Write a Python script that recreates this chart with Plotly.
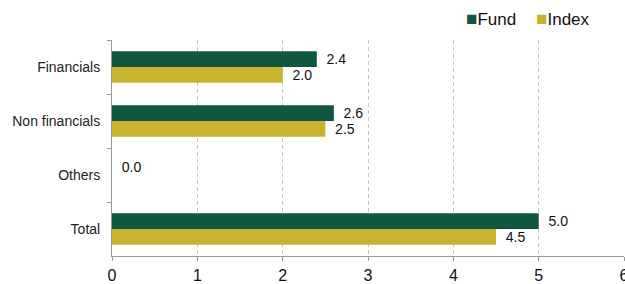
import plotly.graph_objects as go

categories = ["Financials", "Non financials", "Others", "Total"]
fund_values = [2.4, 2.6, 0.0, 5.0]
index_values = [2.0, 2.5, None, 4.5]
fund_text = ["2.4", "2.6", "0.0", "5.0"]
index_text = ["2.0", "2.5", "", "4.5"]
x_ticks = [0, 1, 2, 3, 4, 5, 6]
series_names = ["Fund", "Index"]

GREEN = "#10573F"
YELLOW = "#C8B32F"
FONT = "Liberation Sans, Arial, sans-serif"
PAD = "\u00a0\u2009"

W, H = 625, 284
ML, MR, MT, MB = 112, 1, 40, 28

fig = go.Figure()
fig.add_trace(go.Bar(
    y=categories, x=fund_values, orientation="h", name=series_names[0],
    marker=dict(color=GREEN, line=dict(width=0)),
    text=[PAD + t for t in fund_text], textposition="outside", cliponaxis=False,
    textfont=dict(size=18, color="#111", family=FONT), showlegend=False,
))
fig.add_trace(go.Bar(
    y=categories, x=index_values, orientation="h", name=series_names[1],
    marker=dict(color=YELLOW, line=dict(width=0)),
    text=[(PAD + t) if t else "" for t in index_text], textposition="outside", cliponaxis=False,
    textfont=dict(size=18, color="#111", family=FONT), showlegend=False,
))

# legend drawn as text annotations
pw = W - ML - MR
ph = H - MT - MB
def px_to_paper_x(px):
    return (px - ML) / pw
def py_to_paper_y(py):
    return (H - MB - py) / ph

legend_items = [(series_names[0], GREEN, 464), (series_names[1], YELLOW, 534)]
annotations = []
for name, col, px in legend_items:
    annotations.append(dict(
        xref="paper", yref="paper", x=px_to_paper_x(px), y=py_to_paper_y(19),
        xanchor="left", yanchor="middle", showarrow=False,
        text=f"<span style='color:{col};font-size:19px'>\u25a0</span>{name}",
        font=dict(size=17, color="#111", family=FONT),
    ))

fig.update_layout(
    width=W, height=H,
    margin=dict(l=ML, r=MR, t=MT, b=MB, autoexpand=False),
    barmode="group", bargap=0.42, bargroupgap=0,
    plot_bgcolor="white", paper_bgcolor="white",
    font=dict(family=FONT, color="#222"),
    showlegend=False,
    annotations=annotations,
)
fig.update_xaxes(
    range=[0, 6], tickvals=x_ticks, ticktext=[str(t) for t in x_ticks],
    showgrid=True, gridcolor="#c4c4c4", griddash="4px,3px", gridwidth=1,
    showline=True, linecolor="#999", linewidth=1,
    ticks="outside", ticklen=4, tickcolor="#999",
    tickfont=dict(size=16, color="#111", family=FONT),
    zeroline=False, automargin=False, ticklabeloverflow="allow",
    ticklabelstandoff=1,
)
fig.update_yaxes(
    categoryorder="array", categoryarray=categories, autorange="reversed",
    showline=True, linecolor="#999", linewidth=1,
    ticks="outside", ticklen=4, tickcolor="#999", tickson="boundaries",
    tickfont=dict(size=14, color="#222", family=FONT),
    showgrid=False, ticklabelstandoff=8, automargin=False,
)
fig.write_html("out.html", config={"displayModeBar": False},
               post_script="document.body.style.margin='0';")
